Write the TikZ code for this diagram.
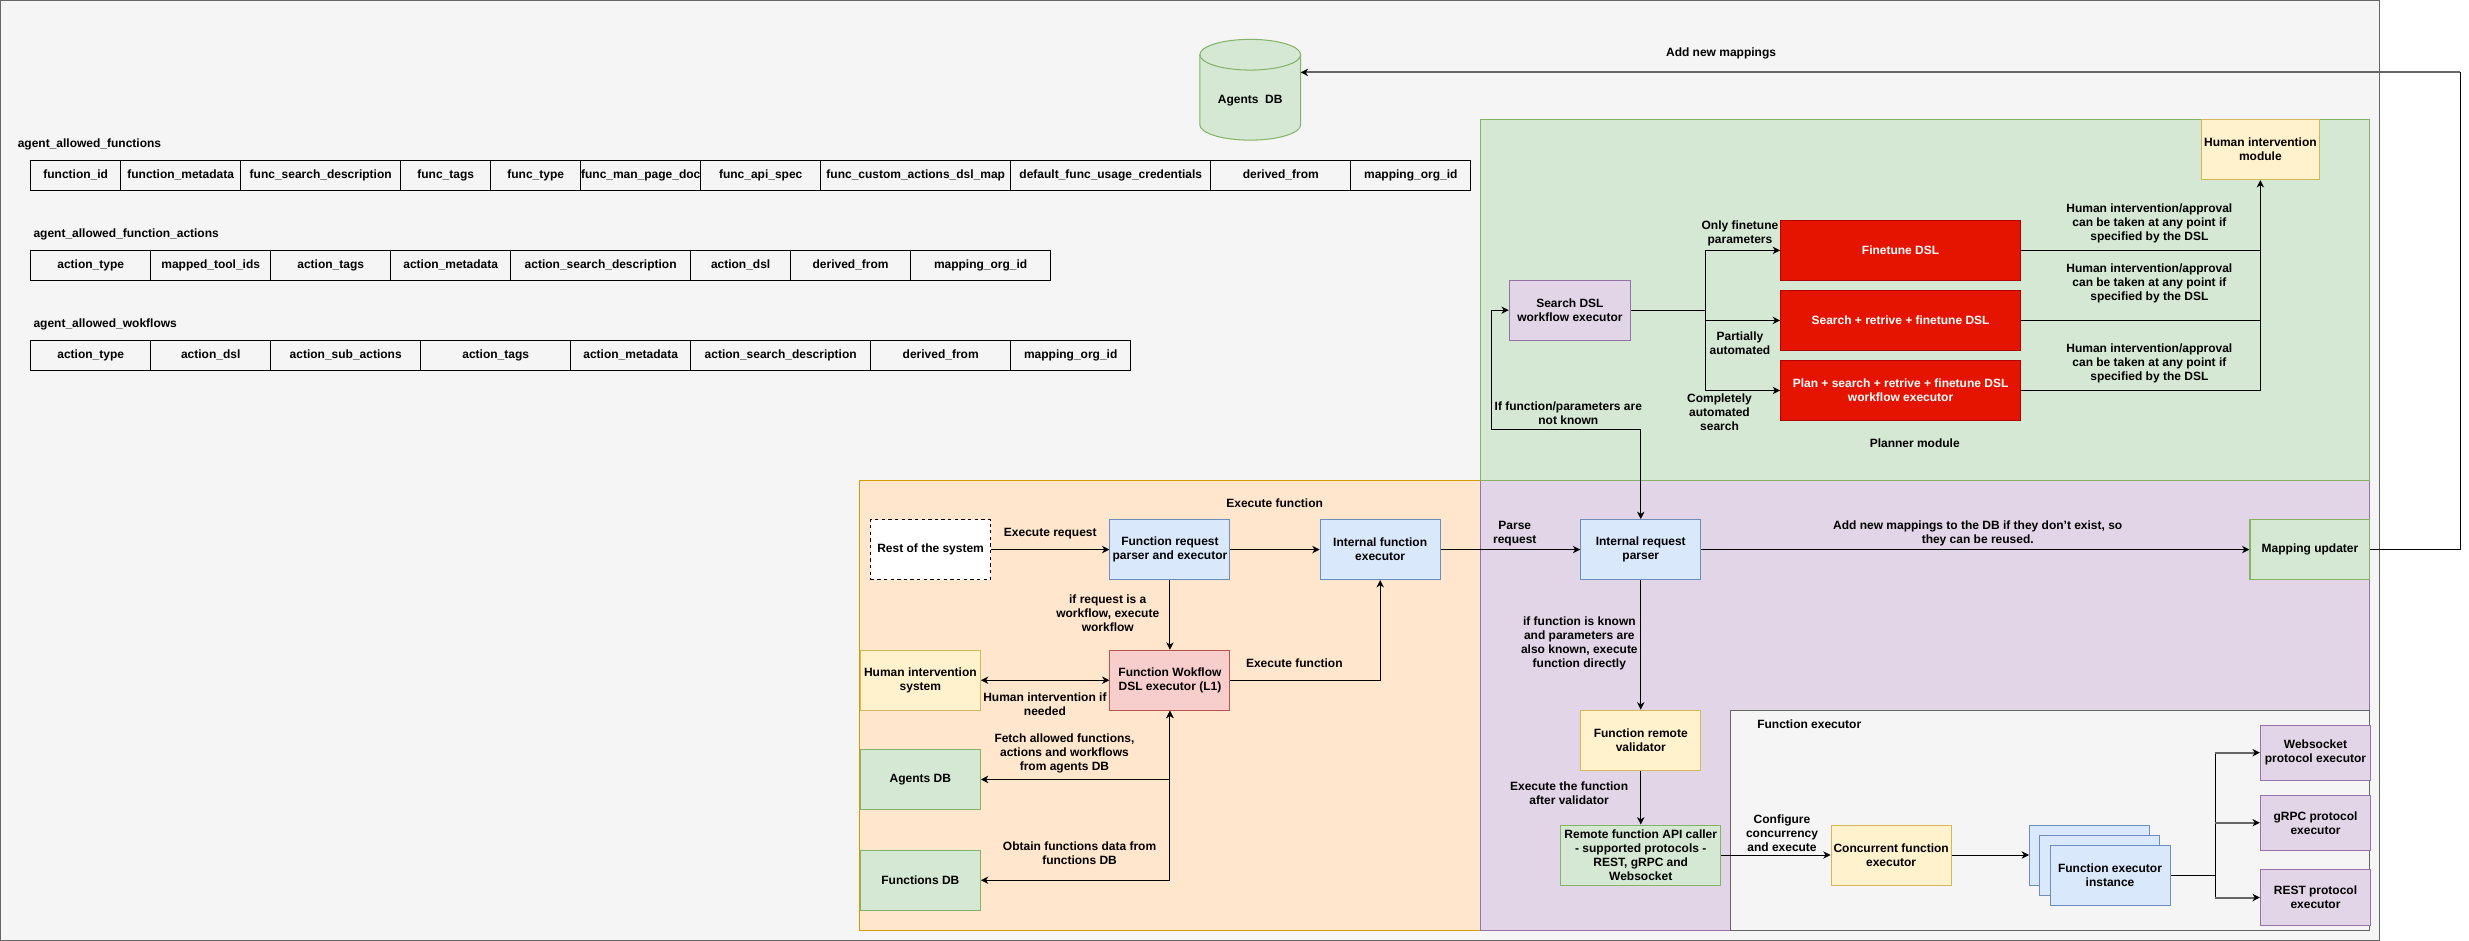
\documentclass[tikz,border=0pt]{standalone}
\usepackage{fontspec}
\setmainfont{Liberation Sans}
\usetikzlibrary{positioning,arrows.meta}

\definecolor{grayfill}{HTML}{F5F5F5}
\definecolor{graydraw}{HTML}{666666}
\definecolor{greenfill}{HTML}{D5E8D4}
\definecolor{greendraw}{HTML}{82B366}
\definecolor{orangefill}{HTML}{FFE6CC}
\definecolor{orangedraw}{HTML}{D79B00}
\definecolor{purplefill}{HTML}{E1D5E7}
\definecolor{purpledraw}{HTML}{9673A6}
\definecolor{bluefill}{HTML}{DAE8FC}
\definecolor{bluedraw}{HTML}{6C8EBF}
\definecolor{yellowfill}{HTML}{FFF2CC}
\definecolor{yellowdraw}{HTML}{D6B656}
\definecolor{redfill}{HTML}{F8CECC}
\definecolor{reddraw}{HTML}{B85450}
\definecolor{dslfill}{HTML}{E51400}
\definecolor{dsldraw}{HTML}{B20000}

\tikzset{
  fnbox/.style={draw, align=center, minimum width=2.286cm, minimum height=1.143cm, inner sep=1pt},
  bluebox/.style={fnbox, fill=bluefill, draw=bluedraw},
  greenbox/.style={fnbox, fill=greenfill, draw=greendraw},
  yellowbox/.style={fnbox, fill=yellowfill, draw=yellowdraw},
  redbox/.style={fnbox, fill=redfill, draw=reddraw},
  purplebox/.style={fnbox, fill=purplefill, draw=purpledraw},
  dslbox/.style={fnbox, fill=dslfill, draw=dsldraw, text=white, minimum width=4.572cm},
  cell/.style={draw=black, line width=0.7pt, minimum height=0.57cm, inner sep=0pt, outer sep=0pt},
  lbl/.style={align=center, inner sep=0pt},
  grayarrow/.style={draw=graydraw, line width=1.1pt, -{Stealth[length=4pt,width=4pt,inset=1.2pt,black]}},
}

\begin{document}
\begin{tikzpicture}[x=0.03cm, y=-0.03cm, line width=0.55pt,
    font=\fontsize{6.5}{7.6}\selectfont\bfseries,
    >={Stealth[length=4pt,width=4pt,inset=1.2pt]}]

    \useasboundingbox (0,0) rectangle (1568,597.6);

    % Areas
    \draw[draw=graydraw, fill=grayfill] (0.5,0.5) rectangle (1511,597);
    \draw[draw=orangedraw, fill=orangefill] (546,305) rectangle (940,591);
    \draw[draw=purpledraw, fill=purplefill] (940,305) rectangle (1505,591);
    \draw[draw=greendraw, fill=greenfill] (940,76) rectangle (1505,305);
    \draw[draw=graydraw, fill=grayfill] (1099,451) rectangle (1505,591);

    % Agents DB cylinder
    \draw[draw=greendraw, fill=greenfill] (762,34.75) -- (762,79.25)
        arc[start angle=180, end angle=360, x radius=0.96cm, y radius=0.2925cm] -- (826,34.75)
        arc[start angle=0, end angle=180, x radius=0.96cm, y radius=0.2925cm] -- cycle;
    \draw[draw=greendraw] (762,34.75) arc[start angle=180, end angle=360, x radius=0.96cm, y radius=0.2925cm];
    \node[lbl] (agents_db) at (794,64) {Agents\ \ DB};
    \coordinate (agents_db_in) at (826,46);

    % Tables
    \node[lbl, anchor=west] (title_functions) at (11,91.5) {agent\_allowed\_functions};
    \node[cell, minimum width=1.715cm, anchor=west] (f_id) at (19.5,111.35) {function\_id};
    \node[cell, minimum width=2.286cm, right=0pt of f_id] (f_meta) {function\_metadata};
    \node[cell, minimum width=3.048cm, right=0pt of f_meta] (f_search) {func\_search\_description};
    \node[cell, minimum width=1.715cm, right=0pt of f_search] (f_tags) {func\_tags};
    \node[cell, minimum width=1.715cm, right=0pt of f_tags] (f_type) {func\_type};
    \node[cell, minimum width=2.286cm, right=0pt of f_type] (f_man) {func\_man\_page\_doc};
    \node[cell, minimum width=2.286cm, right=0pt of f_man] (f_api) {func\_api\_spec};
    \node[cell, minimum width=3.620cm, right=0pt of f_api] (f_custom) {func\_custom\_actions\_dsl\_map};
    \node[cell, minimum width=3.811cm, right=0pt of f_custom] (f_cred) {default\_func\_usage\_credentials};
    \node[cell, minimum width=2.667cm, right=0pt of f_cred] (f_derived) {derived\_from};
    \node[cell, minimum width=2.286cm, right=0pt of f_derived] (f_org) {mapping\_org\_id};

    \node[lbl, anchor=west] (title_actions) at (21,148.6) {agent\_allowed\_function\_actions};
    \node[cell, minimum width=2.286cm, anchor=west] (a_type) at (19.5,168.5) {action\_type};
    \node[cell, minimum width=2.286cm, right=0pt of a_type] (a_tools) {mapped\_tool\_ids};
    \node[cell, minimum width=2.286cm, right=0pt of a_tools] (a_tags) {action\_tags};
    \node[cell, minimum width=2.286cm, right=0pt of a_tags] (a_meta) {action\_metadata};
    \node[cell, minimum width=3.429cm, right=0pt of a_meta] (a_search) {action\_search\_description};
    \node[cell, minimum width=1.905cm, right=0pt of a_search] (a_dsl) {action\_dsl};
    \node[cell, minimum width=2.286cm, right=0pt of a_dsl] (a_derived) {derived\_from};
    \node[cell, minimum width=2.667cm, right=0pt of a_derived] (a_org) {mapping\_org\_id};

    \node[lbl, anchor=west] (title_workflows) at (21,205.8) {agent\_allowed\_wokflows};
    \node[cell, minimum width=2.286cm, anchor=west] (w_type) at (19.5,225.65) {action\_type};
    \node[cell, minimum width=2.286cm, right=0pt of w_type] (w_dsl) {action\_dsl};
    \node[cell, minimum width=2.858cm, right=0pt of w_dsl] (w_sub) {action\_sub\_actions};
    \node[cell, minimum width=2.858cm, right=0pt of w_sub] (w_tags) {action\_tags};
    \node[cell, minimum width=2.286cm, right=0pt of w_tags] (w_meta) {action\_metadata};
    \node[cell, minimum width=3.429cm, right=0pt of w_meta] (w_search) {action\_search\_description};
    \node[cell, minimum width=2.667cm, right=0pt of w_search] (w_derived) {derived\_from};
    \node[cell, minimum width=2.286cm, right=0pt of w_derived] (w_org) {mapping\_org\_id};

    % Planner module
    \node[purplebox, minimum width=2.31cm] (search_dsl) at (997,197) {Search DSL\\workflow executor};
    \node[dslbox] (finetune_dsl) at (1207,159) {Finetune DSL};
    \node[dslbox] (search_finetune_dsl) at (1207,203.5) {Search + retrive + finetune DSL};
    \node[dslbox] (plan_dsl) at (1207,248) {Plan + search + retrive + finetune DSL\\workflow executor};
    \node[yellowbox, minimum width=2.25cm] (human_module) at (1435.5,95) {Human intervention\\module};
    \coordinate (dsl_split) at (1083,197);
    \coordinate (unknown_turn) at (947,273);

    % Execute function nodes
    \node[fnbox, dash pattern=on 1.8pt off 1.8pt, draw=black, fill=white] (rest_system) at (591,349) {Rest of the system};
    \node[bluebox] (request_parser) at (743,349) {Function request\\parser and executor};
    \node[bluebox] (internal_executor) at (876.5,349) {Internal function\\executor};
    \node[yellowbox] (human_system) at (584.5,432) {Human intervention\\system};
    \node[redbox] (workflow_executor) at (743,432) {Function Wokflow\\DSL executor (L1)};
    \node[greenbox] (agents_db_box) at (584.5,495) {Agents DB};
    \node[greenbox] (functions_db) at (584.5,559) {Functions DB};

    % Internal request nodes
    \node[bluebox] (internal_parser) at (1042,349) {Internal request\\parser};
    \node[greenbox] (mapping_updater) at (1467,349) {Mapping updater};
    \node[yellowbox] (remote_validator) at (1042,470) {Function remote\\validator};
    \node[greenbox, minimum width=3.048cm, inner sep=0pt] (api_caller) at (1042,543) {Remote function API caller\\- supported protocols -\\REST, gRPC and\\Websocket};
    \coordinate (mapping_turn) at (1562.5,46);

    % Function executor nodes
    \node[yellowbox] (concurrent_executor) at (1201,543) {Concurrent function\\executor};
    \node[bluebox] (instance_back) at (1327,543) {};
    \node[bluebox] (instance_mid) at (1333.5,549.5) {};
    \node[bluebox] (instance_front) at (1340,556) {Function executor\\instance};
    \node[purplebox, minimum width=2.1cm, minimum height=1.05cm] (websocket_exec) at (1470.5,478) {Websocket\\protocol executor};
    \node[purplebox, minimum width=2.1cm, minimum height=1.05cm] (grpc_exec) at (1470.5,522.5) {gRPC protocol\\executor};
    \node[purplebox, minimum width=2.1cm, minimum height=1.05cm] (rest_exec) at (1470.5,570) {REST protocol\\executor};
    \coordinate (fan_out) at (1406.7,556);

    % Labels
    \node[lbl] (lbl_add_mappings) at (1093,34) {Add new mappings};
    \node[lbl] (lbl_exec_request) at (667,338.6) {Execute request};
    \node[lbl] (lbl_exec_function) at (809.5,319.6) {Execute function};
    \node[lbl] (lbl_parse) at (962,339) {Parse\\request};
    \node[lbl] (lbl_new_mappings) at (1256,338.6) {Add new mappings to the DB if they don't exist, so\\they can be reused.};
    \node[lbl] (lbl_workflow) at (703.5,389.7) {if request is a\\workflow, execute\\workflow};
    \node[lbl] (lbl_exec_function2) at (822,421.5) {Execute function};
    \node[lbl] (lbl_human_if) at (663.6,447) {Human intervention if\\needed};
    \node[lbl] (lbl_fetch) at (676,478.6) {Fetch allowed functions,\\actions and workflows\\from agents DB};
    \node[lbl] (lbl_obtain) at (685.6,542) {Obtain functions data from\\functions DB};
    \node[lbl] (lbl_known) at (1003,408.5) {if function is known\\and parameters are\\also known, execute\\function directly};
    \node[lbl] (lbl_after) at (996.5,503.7) {Execute the function\\after validator};
    \node[lbl] (lbl_configure) at (1131.7,529) {Configure\\concurrency\\and execute};
    \node[lbl] (lbl_fn_executor) at (1149,460) {Function executor};
    \node[lbl] (lbl_only) at (1105,148) {Only finetune\\parameters};
    \node[lbl] (lbl_partial) at (1105,218) {Partially\\automated};
    \node[lbl] (lbl_complete) at (1092,262) {Completely\\automated\\search};
    \node[lbl] (lbl_human1) at (1365,142) {Human intervention/approval\\can be taken at any point if\\specified by the DSL};
    \node[lbl] (lbl_human2) at (1365,180) {Human intervention/approval\\can be taken at any point if\\specified by the DSL};
    \node[lbl] (lbl_human3) at (1365,231) {Human intervention/approval\\can be taken at any point if\\specified by the DSL};
    \node[lbl] (lbl_planner) at (1216,281.5) {Planner module};
    \node[lbl] (lbl_unknown) at (996,262.5) {If function/parameters are\\not known};

    % Arrows
    \draw[->] (rest_system) -- (request_parser);
    \draw[->] (request_parser) -- (internal_executor);
    \draw[->] (internal_executor) -- (internal_parser);
    \draw[->] (internal_parser) -- (mapping_updater);
    \draw[->] (request_parser) -- (workflow_executor);
    \draw[->] (workflow_executor.east) -| (internal_executor.south);
    \draw[<->] (human_system) -- (workflow_executor);
    \draw[<->] (workflow_executor.south) |- (agents_db_box.east);
    \draw[<->] (workflow_executor.south) |- (functions_db.east);
    \draw[->] (internal_parser) -- (remote_validator);
    \draw[->] (remote_validator) -- (api_caller);
    \draw[->] (api_caller) -- (concurrent_executor);
    \draw[->] (concurrent_executor) -- (instance_back);
    \draw (instance_front.east) -- (fan_out);
    \draw (fan_out |- websocket_exec.west) -- (fan_out |- rest_exec.west);
    \draw[grayarrow] (fan_out |- websocket_exec.west) -- (websocket_exec.west);
    \draw[grayarrow] (fan_out |- grpc_exec.west) -- (grpc_exec.west);
    \draw[grayarrow] (fan_out |- rest_exec.west) -- (rest_exec.west);
    \draw (search_dsl.east) -- (dsl_split);
    \draw[->] (dsl_split) |- (finetune_dsl.west);
    \draw[->] (dsl_split) |- (search_finetune_dsl.west);
    \draw[->] (dsl_split) |- (plan_dsl.west);
    \draw (finetune_dsl.east) -- (finetune_dsl.east -| human_module.south);
    \draw (search_finetune_dsl.east) -- (search_finetune_dsl.east -| human_module.south);
    \draw[->] (plan_dsl.east) -| (human_module.south);
    \draw[<->] (internal_parser.north) |- (unknown_turn) |- (search_dsl.west);
    \draw (mapping_updater.east) -| (mapping_turn);
    \draw[grayarrow] (mapping_turn) -- (agents_db_in);
\end{tikzpicture}
\end{document}
